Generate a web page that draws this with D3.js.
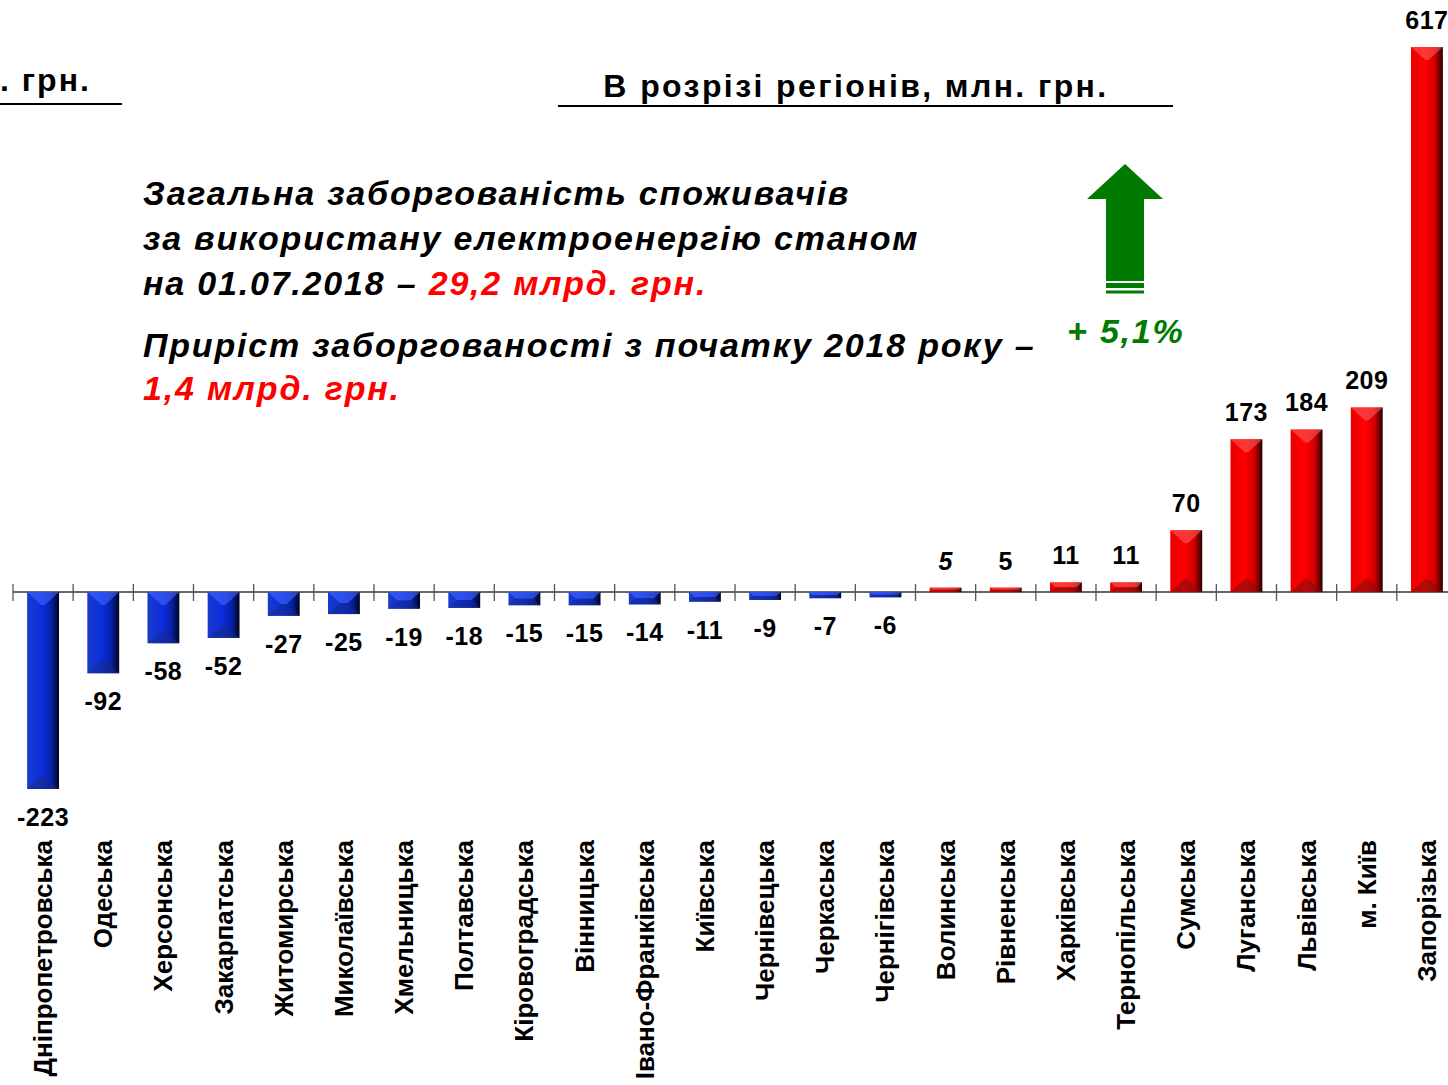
<!DOCTYPE html>
<html>
<head>
<meta charset="utf-8">
<script src="https://cdnjs.cloudflare.com/ajax/libs/d3/7.8.5/d3.min.js"></script>
<style>
  body { margin: 0; background: #fff; }
  svg { display: block; font-family: "Liberation Sans", Arial, sans-serif; }
</style>
</head>
<body>
<div id="chart"></div>
<script>
// regions, sorted by change of debt (mln UAH)
var regions = ["Дніпропетровська", "Одеська", "Херсонська", "Закарпатська", "Житомирська",
  "Миколаївська", "Хмельницька", "Полтавська", "Кіровоградська", "Вінницька",
  "Івано-Франківська", "Київська", "Чернівецька", "Черкаська", "Чернігівська",
  "Волинська", "Рівненська", "Харківська", "Тернопільська", "Сумська",
  "Луганська", "Львівська", "м. Київ", "Запорізька"];
var values = [-223, -92, -58, -52, -27, -25, -19, -18, -15, -15, -14, -11, -9, -7, -6,
  5, 5, 11, 11, 70, 173, 184, 209, 617];
var valueLabels = ["-223", "-92", "-58", "-52", "-27", "-25", "-19", "-18", "-15", "-15",
  "-14", "-11", "-9", "-7", "-6", "5", "5", "11", "11", "70", "173", "184", "209", "617"];

var textLines = [
  [["Загальна заборгованість споживачів", "#000"]],
  [["за використану електроенергію станом", "#000"]],
  [["на 01.07.2018 – ", "#000"], ["29,2 млрд. грн.", "#ff0000"]],
  [["Приріст заборгованості з початку 2018 року –", "#000"]],
  [["1,4 млрд. грн.", "#ff0000"]]
];

var width = 1448, height = 1085;
var svg = d3.select("#chart").append("svg")
  .attr("width", width).attr("height", height);

var defs = svg.append("defs");
function grad(id, stops) {
  var g = defs.append("linearGradient").attr("id", id)
    .attr("x1", "0%").attr("x2", "100%").attr("y1", "0%").attr("y2", "0%");
  stops.forEach(function(s) {
    g.append("stop").attr("offset", s[0]).attr("stop-color", s[1]);
  });
}
grad("gBlue", [["0%", "#1a3cc8"], ["45%", "#0a2ee0"], ["75%", "#0621a8"], ["92%", "#020c48"], ["100%", "#000420"]]);
grad("gRed", [["0%", "#e80000"], ["45%", "#ff0000"], ["75%", "#d00000"], ["92%", "#600000"], ["100%", "#200000"]]);

var x = d3.scaleBand().domain(regions)
  .range([13, 1457]).paddingInner(0.47).paddingOuter(0.235);
var y = d3.scaleLinear().domain([-223, 617]).range([789, 47]);
var step = x.step();

// headings
svg.append("text").attr("x", 0).attr("y", 91)
  .attr("font-size", 32).attr("font-weight", "bold").attr("letter-spacing", 2)
  .text(". грн.");
svg.append("line").attr("x1", 0).attr("x2", 122).attr("y1", 104).attr("y2", 104)
  .attr("stroke", "#000").attr("stroke-width", 2);
svg.append("text").attr("x", 856).attr("y", 97).attr("text-anchor", "middle")
  .attr("font-size", 32).attr("font-weight", "bold").attr("letter-spacing", 2.4)
  .text("В розрізі регіонів, млн. грн.");
svg.append("line").attr("x1", 558).attr("x2", 1173).attr("y1", 106).attr("y2", 106)
  .attr("stroke", "#000").attr("stroke-width", 2);

// annotation text
var lineY = [205, 250, 295, 357, 400];
textLines.forEach(function(parts, i) {
  var t = svg.append("text").attr("x", 143).attr("y", lineY[i])
    .attr("font-size", 34).attr("font-weight", "bold").attr("font-style", "italic")
    .attr("letter-spacing", 1.8);
  parts.forEach(function(p) { t.append("tspan").attr("fill", p[1]).text(p[0]); });
});

// green arrow
var arrow = svg.append("g").attr("fill", "#007a00");
arrow.append("path").attr("d", "M1125,164 L1163,199 L1144,199 L1144,281 L1106,281 L1106,199 L1087,199 Z");
arrow.append("rect").attr("x", 1106).attr("y", 283).attr("width", 38).attr("height", 5);
arrow.append("rect").attr("x", 1106).attr("y", 290.5).attr("width", 38).attr("height", 3);
svg.append("text").attr("x", 1067).attr("y", 343)
  .attr("font-size", 34).attr("font-weight", "bold").attr("font-style", "italic")
  .attr("letter-spacing", 1.8)
  .attr("fill", "#007a00").text("+ 5,1%");

// axis
var y0 = y(0);
svg.append("line").attr("x1", 13).attr("x2", width).attr("y1", y0).attr("y2", y0)
  .attr("stroke", "#333").attr("stroke-width", 1.5);
var tickX = regions.map(function(r) { return x(r) + x.bandwidth() / 2 - step / 2; });
svg.append("g").selectAll("line").data(tickX).enter().append("line")
  .attr("x1", function(d) { return d; }).attr("x2", function(d) { return d; })
  .attr("y1", y0 - 8).attr("y2", y0 + 9)
  .attr("stroke", "#555").attr("stroke-width", 1.3);

// bars
var data = regions.map(function(r, i) { return { name: r, v: values[i], label: valueLabels[i] }; });
var bw = x.bandwidth();
var bars = svg.append("g").selectAll("g.bar").data(data).enter().append("g").attr("class", "bar");

bars.append("rect")
  .attr("x", function(d) { return x(d.name); })
  .attr("y", function(d) { return Math.min(y(d.v), y0); })
  .attr("width", bw)
  .attr("height", function(d) { return Math.abs(y(d.v) - y0); })
  .attr("fill", function(d) { return d.v < 0 ? "url(#gBlue)" : "url(#gRed)"; });

// bevels: light on the top edge, dark on the bottom edge
function bevel(d, top) {
  var x0 = x(d.name), x1 = x0 + bw, xm = x0 + bw / 2;
  var yt = Math.min(y(d.v), y0), yb = Math.max(y(d.v), y0);
  var depth = Math.min(13, (yb - yt) / 2);
  var inset = Math.min(bw / 2, depth * 1.1);
  if (top) {
    return "M" + x0 + "," + yt + "L" + x1 + "," + yt + "L" + (x1 - inset) + "," + (yt + depth) +
      "L" + (x0 + inset) + "," + (yt + depth) + "Z";
  }
  return "M" + x0 + "," + yb + "L" + x1 + "," + yb + "L" + (x1 - inset) + "," + (yb - depth) +
    "L" + (x0 + inset) + "," + (yb - depth) + "Z";
}
bars.append("path").attr("d", function(d) { return bevel(d, true); })
  .attr("fill", function(d) { return d.v < 0 ? "#4a6cff" : "#ff6060"; }).attr("opacity", 0.55);
bars.append("path").attr("d", function(d) { return bevel(d, false); })
  .attr("fill", function(d) { return d.v < 0 ? "#1a2a80" : "#701010"; }).attr("opacity", 0.5);

// value labels
bars.append("text")
  .attr("x", function(d) { return x(d.name) + bw / 2; })
  .attr("y", function(d) { return d.v < 0 ? y(d.v) + 37 : y(d.v) - 18; })
  .attr("text-anchor", "middle")
  .attr("font-size", 25).attr("font-weight", "bold").attr("letter-spacing", 0.5)
  .attr("font-style", function(d, i) { return i === 15 ? "italic" : "normal"; })
  .text(function(d) { return d.label; });

// category labels
svg.append("g").selectAll("text").data(regions).enter().append("text")
  .attr("transform", function(d) { return "translate(" + (x(d) + bw / 2 + 9) + ",840) rotate(-90)"; })
  .attr("text-anchor", "end")
  .attr("font-size", 26).attr("font-weight", "bold")
  .text(function(d) { return d; });
</script>
</body>
</html>
